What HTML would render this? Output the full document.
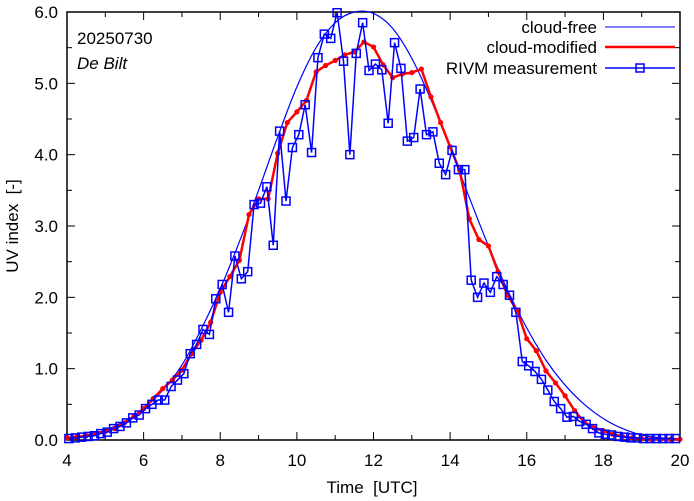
<!DOCTYPE html>
<html><head><meta charset="utf-8"><style>
body{margin:0;background:#fff;}
svg{display:block;font-family:"Liberation Sans",sans-serif;}
</style></head><body>
<svg id="chart" width="694" height="501" viewBox="0 0 694 501" xmlns="http://www.w3.org/2000/svg">
<g id="axes"></g>
<g id="series"></g>
<text x="77" y="44" font-size="17">20250730</text>
<text x="77" y="69" font-size="17" font-style="italic">De Bilt</text>
<text x="372" y="493" font-size="17" text-anchor="middle">Time&#160; [UTC]</text>
<text transform="translate(18,226) rotate(-90)" font-size="17" text-anchor="middle">UV index&#160; [-]</text>
<g>
<g><text x="597" y="33" font-size="17" text-anchor="end">cloud-free</text><line x1="605" y1="27" x2="675" y2="27" stroke="#0000ff" stroke-width="1"/></g>
<g><text x="597" y="53" font-size="17" text-anchor="end">cloud-modified</text><line x1="605" y1="47" x2="675" y2="47" stroke="#ff0000" stroke-width="2.5"/></g>
<g><text x="597" y="74" font-size="17" text-anchor="end">RIVM measurement</text><line x1="605" y1="68" x2="675" y2="68" stroke="#0000ff" stroke-width="1.5"/><rect x="636" y="64" width="8" height="8" fill="none" stroke="#0000ff" stroke-width="1.5"/></g>
</g>
</svg>
<script>
const xTicks=[4,6,8,10,12,14,16,18,20];
const yTicks=[0,1,2,3,4,5,6];
const yTickLabels=["0.0","1.0","2.0","3.0","4.0","5.0","6.0"];
const clearTimes=[4,4.5,5,5.5,6,6.5,7,7.5,8,8.5,9,9.5,10,10.5,11,11.5,12,12.5,13,13.5,14,14.5,15,15.5,16,16.5,17,17.5,18,18.5,19,19.5,20];
const clearValues=[0.03,0.07,0.14,0.26,0.44,0.7,1.05,1.55,2.12,2.78,3.5,4.25,4.95,5.5,5.85,6.0,5.98,5.77,5.35,4.77,4.1,3.4,2.72,2.1,1.57,1.12,0.77,0.5,0.3,0.16,0.07,0.03,0.01];
const modStart=4, modStep=0.25;
const modValues=[0.03,0.04,0.06,0.09,0.12,0.16,0.24,0.33,0.44,0.58,0.72,0.84,0.98,1.21,1.40,1.65,2.07,2.29,2.52,
3.16,3.38,3.38,4.02,4.45,4.60,4.76,5.16,5.25,5.32,5.40,5.44,5.58,5.51,5.26,5.08,5.13,5.15,5.20,4.81,4.45,4.11,3.78,3.10,2.81,
2.72,2.36,2.03,1.81,1.42,1.25,0.97,0.80,0.62,0.41,0.25,0.17,0.13,0.08,0.05,
0.03,0.02,0.01,0.01,0.01,0.01];
const measStart=4.05, measStep=1/6;
const measValues=[0.02,0.03,0.04,0.05,0.06,0.09,0.11,0.16,0.19,0.24,0.31,0.35,0.44,0.50,0.56,0.56,0.75,0.84,0.93,1.21,1.34,1.55,1.48,1.98,2.18,1.79,2.58,2.26,2.36,3.30,3.32,3.55,
2.73,4.33,3.35,4.10,4.28,4.70,4.03,5.36,5.69,5.63,5.99,5.31,4.00,5.42,5.85,5.18,5.27,5.19,4.44,5.57,5.21,4.19,4.24,4.92,4.28,4.32,3.88,3.72,4.06,3.79,3.79,
2.24,2.00,2.20,2.07,2.29,2.18,2.03,1.79,1.10,1.04,0.96,0.85,0.70,0.54,0.44,0.32,0.33,0.26,0.22,0.16,0.10,
0.08,0.07,0.05,0.04,0.03,0.03,0.02,0.02,0.02,0.02,0.02,0.02];

const L=67,R=680,T=12,B=440;
const X=t=>L+(t-4)/16*(R-L);
const Y=v=>B-v/6*(B-T);
const NS="http://www.w3.org/2000/svg";
function mk(tag,attrs,parent){const e=document.createElementNS(NS,tag);for(const k in attrs)e.setAttribute(k,attrs[k]);parent.appendChild(e);return e;}
const axes=document.getElementById('axes'), ser=document.getElementById('series');
for(let t=4;t<=20;t+=1){const major=(t%2===0);const len=major?8:5;
 mk('line',{x1:X(t),y1:B,x2:X(t),y2:B-len,stroke:'#000','stroke-width':1},axes);
 mk('line',{x1:X(t),y1:T,x2:X(t),y2:T+len,stroke:'#000','stroke-width':1},axes);}
for(let v=0;v<=6;v+=0.5){const major=Math.abs(v-Math.round(v))<1e-6;const len=major?8:5;
 mk('line',{x1:L,y1:Y(v),x2:L+len,y2:Y(v),stroke:'#000','stroke-width':1},axes);
 mk('line',{x1:R,y1:Y(v),x2:R-len,y2:Y(v),stroke:'#000','stroke-width':1},axes);}
xTicks.forEach(t=>{const e=mk('text',{x:X(t),y:B+26,'font-size':17,'text-anchor':'middle'},axes);e.textContent=t;
 
 });
yTicks.forEach((v,i)=>{const e=mk('text',{x:L-9,y:Y(v)+6,'font-size':17,'text-anchor':'end'},axes);e.textContent=yTickLabels[i];
 
 });
const frame=mk('rect',{x:L,y:T,width:R-L,height:B-T,fill:'none',stroke:'#000','stroke-width':1.5},axes);


const cp=clearTimes.map((t,i)=>[X(t),Y(clearValues[i])]);
let d='M'+cp[0][0]+','+cp[0][1];
for(let i=0;i<cp.length-1;i++){const p0=cp[Math.max(0,i-1)],p1=cp[i],p2=cp[i+1],p3=cp[Math.min(cp.length-1,i+2)];
 d+=' C'+(p1[0]+(p2[0]-p0[0])/6)+','+(p1[1]+(p2[1]-p0[1])/6)+' '+(p2[0]-(p3[0]-p1[0])/6)+','+(p2[1]-(p3[1]-p1[1])/6)+' '+p2[0]+','+p2[1];}
const cf=mk('path',{d:d,fill:'none',stroke:'#0000ff','stroke-width':1.2},ser);


const mp=modValues.map((v,i)=>[X(modStart+i*modStep),Y(v)]);
const ml=mk('polyline',{points:mp.map(p=>p.join(',')).join(' '),fill:'none',stroke:'#ff0000','stroke-width':2.5,'stroke-linejoin':'round'},ser);


mp.forEach(p=>{const c=mk('circle',{cx:p[0],cy:p[1],r:2.6,fill:'#ff0000'},ser);
 
 });
const pp=measValues.map((v,i)=>[X(measStart+i*measStep),Y(v)]);
const pl=mk('polyline',{points:pp.map(p=>p.join(',')).join(' '),fill:'none',stroke:'#0000ff','stroke-width':1.5},ser);


pp.forEach(p=>{const r=mk('rect',{x:p[0]-4,y:p[1]-4,width:8,height:8,fill:'none',stroke:'#0000ff','stroke-width':1.5},ser);
 
 });
</script>
</body></html>
